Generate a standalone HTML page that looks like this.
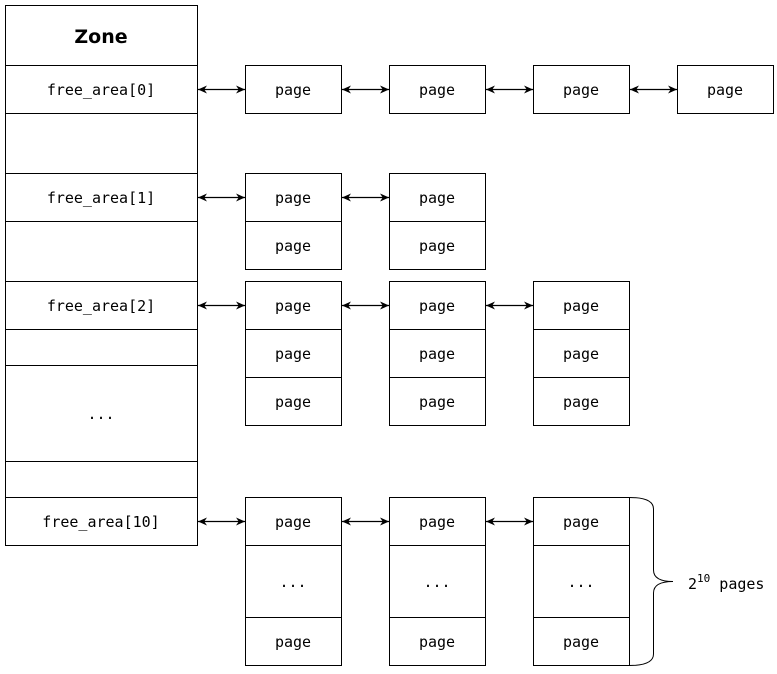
<!DOCTYPE html>
<html><head><meta charset="utf-8"><style>
html,body{margin:0;padding:0;background:#fff;}
svg{display:block;}
text{font-family:"DejaVu Sans Mono","Liberation Mono",monospace;font-size:15px;fill:#000;}
</style></head><body>
<svg width="777" height="674" viewBox="0 0 777 674" xmlns="http://www.w3.org/2000/svg">
<defs>
<marker id="a" viewBox="0 0 10 10" refX="10" refY="5" markerUnits="userSpaceOnUse" markerWidth="11" markerHeight="9" orient="auto-start-reverse"><path d="M0,0.5 L10,5 L0,9.5 L3,5 z" fill="#000"/></marker>
</defs>
<g fill="#fff" stroke="#000" stroke-width="1">
<rect x="5.5" y="5.5" width="192" height="60"/>
<rect x="5.5" y="65.5" width="192" height="48"/>
<rect x="5.5" y="113.5" width="192" height="60"/>
<rect x="5.5" y="173.5" width="192" height="48"/>
<rect x="5.5" y="221.5" width="192" height="60"/>
<rect x="5.5" y="281.5" width="192" height="48"/>
<rect x="5.5" y="329.5" width="192" height="36"/>
<rect x="5.5" y="365.5" width="192" height="96"/>
<rect x="5.5" y="461.5" width="192" height="36"/>
<rect x="5.5" y="497.5" width="192" height="48"/>
<rect x="245.5" y="65.5" width="96" height="48"/>
<rect x="389.5" y="65.5" width="96" height="48"/>
<rect x="533.5" y="65.5" width="96" height="48"/>
<rect x="677.5" y="65.5" width="96" height="48"/>
<rect x="245.5" y="173.5" width="96" height="48"/><rect x="245.5" y="221.5" width="96" height="48"/>
<rect x="389.5" y="173.5" width="96" height="48"/><rect x="389.5" y="221.5" width="96" height="48"/>
<rect x="245.5" y="281.5" width="96" height="48"/><rect x="245.5" y="329.5" width="96" height="48"/><rect x="245.5" y="377.5" width="96" height="48"/>
<rect x="389.5" y="281.5" width="96" height="48"/><rect x="389.5" y="329.5" width="96" height="48"/><rect x="389.5" y="377.5" width="96" height="48"/>
<rect x="533.5" y="281.5" width="96" height="48"/><rect x="533.5" y="329.5" width="96" height="48"/><rect x="533.5" y="377.5" width="96" height="48"/>
<rect x="245.5" y="497.5" width="96" height="48"/><rect x="245.5" y="545.5" width="96" height="72"/><rect x="245.5" y="617.5" width="96" height="48"/>
<rect x="389.5" y="497.5" width="96" height="48"/><rect x="389.5" y="545.5" width="96" height="72"/><rect x="389.5" y="617.5" width="96" height="48"/>
<rect x="533.5" y="497.5" width="96" height="48"/><rect x="533.5" y="545.5" width="96" height="72"/><rect x="533.5" y="617.5" width="96" height="48"/>
</g>
<g stroke="#000" stroke-width="1.3" marker-start="url(#a)" marker-end="url(#a)">
<line x1="198" y1="89.5" x2="245" y2="89.5"/><line x1="342" y1="89.5" x2="389" y2="89.5"/><line x1="486" y1="89.5" x2="533" y2="89.5"/><line x1="630" y1="89.5" x2="677" y2="89.5"/>
<line x1="198" y1="197.5" x2="245" y2="197.5"/><line x1="342" y1="197.5" x2="389" y2="197.5"/>
<line x1="198" y1="305.5" x2="245" y2="305.5"/><line x1="342" y1="305.5" x2="389" y2="305.5"/><line x1="486" y1="305.5" x2="533" y2="305.5"/>
<line x1="198" y1="521.5" x2="245" y2="521.5"/><line x1="342" y1="521.5" x2="389" y2="521.5"/><line x1="486" y1="521.5" x2="533" y2="521.5"/>
</g>
<path d="M629.5,497.5 Q653.5,497.5 653.5,509 L653.5,570 Q653.5,581.5 673,581.5 Q653.5,581.5 653.5,593 L653.5,654 Q653.5,665.5 629.5,665.5" fill="none" stroke="#000"/>
<text x="101" y="43" text-anchor="middle" style="font-family:'DejaVu Sans','Liberation Sans',sans-serif;font-weight:bold;font-size:19px">Zone</text>
<g text-anchor="middle">
<text x="101" y="95">free_area[0]</text>
<text x="101" y="203">free_area[1]</text>
<text x="101" y="311">free_area[2]</text>
<text x="101" y="419">...</text>
<text x="101" y="527">free_area[10]</text>
<text x="293" y="95">page</text><text x="437" y="95">page</text><text x="581" y="95">page</text><text x="725" y="95">page</text>
<text x="293" y="203">page</text><text x="437" y="203">page</text>
<text x="293" y="251">page</text><text x="437" y="251">page</text>
<text x="293" y="311">page</text><text x="437" y="311">page</text><text x="581" y="311">page</text>
<text x="293" y="359">page</text><text x="437" y="359">page</text><text x="581" y="359">page</text>
<text x="293" y="407">page</text><text x="437" y="407">page</text><text x="581" y="407">page</text>
<text x="293" y="527">page</text><text x="437" y="527">page</text><text x="581" y="527">page</text>
<text x="293" y="587">...</text><text x="437" y="587">...</text><text x="581" y="587">...</text>
<text x="293" y="647">page</text><text x="437" y="647">page</text><text x="581" y="647">page</text>
</g>
<text x="688" y="589">2<tspan dy="-7" font-size="11">10</tspan><tspan dy="7"> pages</tspan></text>
</svg>
</body></html>
